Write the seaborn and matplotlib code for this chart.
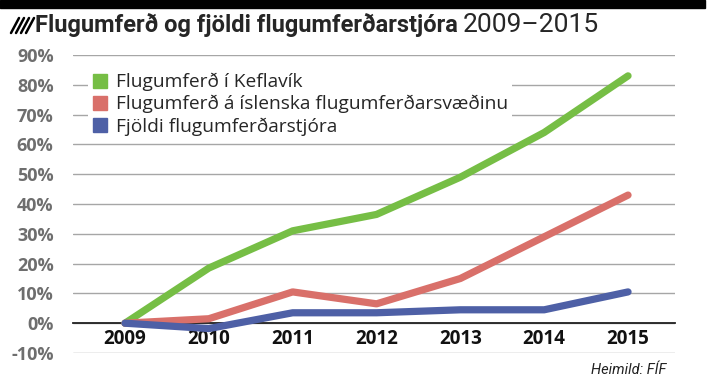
import matplotlib
matplotlib.use("Agg")
import matplotlib.pyplot as plt
import seaborn as sns
import pandas as pd
import numpy as np
from matplotlib.lines import Line2D
from matplotlib.ticker import FixedLocator, FuncFormatter

years = ["2009", "2010", "2011", "2012", "2013", "2014", "2015"]
keflavik = [0, 18.5, 31, 36.5, 49, 64, 83]
islenska = [0, 1.5, 10.5, 6.5, 15, 29, 43]
stjorar = [0, -1.8, 3.5, 3.5, 4.5, 4.5, 10.5]
series_names = ["Flugumferð í Keflavík",
                "Flugumferð á íslenska flugumferðarsvæðinu",
                "Fjöldi flugumferðarstjóra"]
colors = ["#76BE45", "#D9706A", "#4E60A6"]
yticks = [-10, 0, 10, 20, 30, 40, 50, 60, 70, 80, 90]

rows = []
for name, vals in zip(series_names, [keflavik, islenska, stjorar]):
    for i, (y, v) in enumerate(zip(years, vals)):
        rows.append({"x": i, "year": y, "value": v, "series": name})
df = pd.DataFrame(rows)

sns.set_theme(style="white")
plt.rcParams['font.family'] = ['Open Sans', 'DejaVu Sans']
narrow = "Roboto"

fig = plt.figure(figsize=(7.13, 3.83), dpi=100)
ax = fig.add_axes([73/713, (383-353)/383, (675-73)/713, (353-55)/383])

for t in yticks:
    ax.axhline(t, color="#A6A6A6", lw=1.0, zorder=0)

sns.lineplot(data=df, x="x", y="value", hue="series", palette=colors,
             hue_order=series_names, linewidth=5.2, ax=ax, legend=False,
             solid_capstyle="round", zorder=3)

ax.set_xlim(-0.62, 6.56)
ax.set_ylim(-10, 90)
for s in ["top", "right", "left"]:
    ax.spines[s].set_visible(False)
ax.spines["bottom"].set_position(("data", 0))
ax.spines["bottom"].set_color("#222222")
ax.spines["bottom"].set_linewidth(1.3)

ax.xaxis.set_major_locator(FixedLocator(range(len(years))))
ax.set_xticklabels(years, fontsize=13.5, fontweight="bold", color="#111111")
ax.xaxis.set_minor_locator(FixedLocator([i + 0.5 for i in range(len(years))]))
ax.tick_params(axis="x", which="major", length=0, pad=4)
ax.tick_params(axis="x", which="minor", length=4, width=1.2, color="#222222", direction="inout")
ax.set_xlabel("")

ax.set_yticks(yticks)
ax.yaxis.set_major_formatter(FuncFormatter(lambda v, p: f"{int(v)}%"))
ax.tick_params(axis="y", length=0, pad=14, labelsize=13, labelcolor="#6E6E6E")
for lab in ax.get_yticklabels():
    lab.set_fontweight("bold")
ax.set_ylabel("")

handles = [Line2D([0], [0], marker="s", linestyle="none", markersize=10,
                  markerfacecolor=c, markeredgecolor=c) for c in colors]
leg = ax.legend(handles, series_names, loc="upper left",
                bbox_to_anchor=(15/602, (353-69)/298), frameon=True,
                fontsize=13.8, handletextpad=0.35, labelspacing=0.2,
                borderaxespad=0, borderpad=0.2, handlelength=0.9)
leg.get_frame().set_facecolor("white")
leg.get_frame().set_edgecolor("none")
leg.get_frame().set_alpha(1)
leg.set_zorder(2)

fig.patches.append(plt.Rectangle((0, 1 - 8/383), 705/713, 8/383,
                                 transform=fig.transFigure, color="black"))
for k in range(4):
    x0 = 11 + k * 5
    fig.add_artist(Line2D([x0/713, (x0 + 8)/713], [1 - 33/383, 1 - 18/383],
                          color="black", lw=1.8, transform=fig.transFigure))

t1 = fig.text(35/713, 1 - 25/383, "Flugumferð og fjöldi flugumferðarstjóra",
              fontsize=17, fontweight="bold", family=[narrow, "DejaVu Sans"],
              va="center", ha="left")
fig.canvas.draw()
bb = t1.get_window_extent(renderer=fig.canvas.get_renderer())
fig.text((bb.x1 + 5)/713, 1 - 25/383, "2009–2015", fontsize=19,
         family=[narrow, "DejaVu Sans"], va="center", ha="left")
fig.text(666/713, 1 - 370/383, "Heimild: FÍF", fontsize=10.5, style="italic",
         family=[narrow, "DejaVu Sans"], ha="right", va="center", color="#222222")

fig.savefig("out.png", dpi=100)
